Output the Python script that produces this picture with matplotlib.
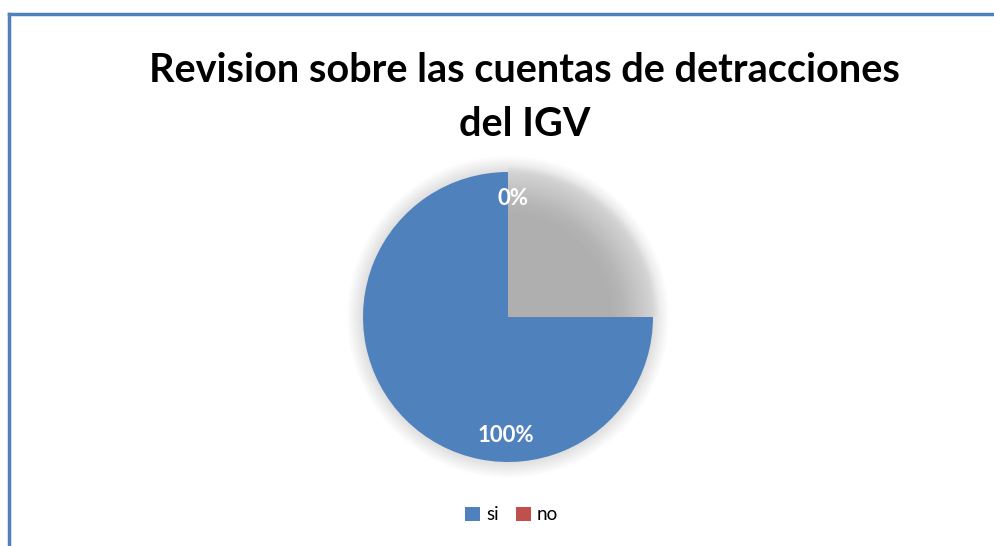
import numpy as np
import matplotlib.pyplot as plt
from matplotlib.patches import Wedge, Circle, Patch
from matplotlib.lines import Line2D

plt.rcParams['font.family'] = ['Lato', 'DejaVu Sans']

# data
categories = ["si", "no"]
percents = [100, 0]
colors = ["#4F81BD", "#C0504D"]
# share of the circle actually painted blue in the picture (the rest is the grey gap)
drawn_shares = [75, 25]
title_lines = ["Revision sobre las cuentas de detracciones", "del IGV"]

fig = plt.figure(figsize=(9.95, 5.46), dpi=100)
ax = fig.add_axes([0, 0, 1, 1])

cx, cy, r = 508, 229, 145

# soft shadow around the pie
for k in range(16):
    ax.add_patch(Circle((cx, cy), r + 16 - k, color='#808080', alpha=0.012, lw=0, zorder=1))

# grey gap with a blurred fade towards the rim
gap_start = 360 * drawn_shares[0] / 100 + 90
for k in range(25):
    rr = r + 6 - k * 2
    ax.add_patch(Wedge((cx, cy), rr, gap_start, gap_start + 360 * drawn_shares[1] / 100,
                       color='#9A9A9A', alpha=0.034, lw=0, zorder=2))

ax.pie(drawn_shares, colors=[colors[0], 'none'], startangle=90, counterclock=True,
       center=(cx, cy), radius=r, frame=True,
       wedgeprops=dict(linewidth=0, zorder=3))
ax.set_xlim(0, 995)
ax.set_ylim(0, 546)
ax.set_aspect('equal')
ax.axis('off')

# labels placed from the real percentages
cum = 0
for cat, p in zip(categories, percents):
    mid = 90 + 360 * (cum + p / 2) / 100
    cum += p
    ang = np.deg2rad(mid)
    ax.text(cx + 0.82 * r * np.cos(ang) + (5 if p == 0 else -2), cy + 0.82 * r * np.sin(ang),
            f"{p}%", color='white', fontsize=16, fontweight='bold',
            ha='center', va='center', zorder=5)

for i, line in enumerate(title_lines):
    fig.text(0.527, 1 - (71 + 53 * i) / 546, line, ha='center', va='center', fontsize=28.5,
             fontweight='bold')

handles = [Patch(facecolor=c, edgecolor='none') for c in colors]
fig.legend(handles, categories, loc='center', bbox_to_anchor=(0.514, 0.057),
           ncol=2, frameon=False, fontsize=13.5, handlelength=0.8, handleheight=0.8,
           handletextpad=0.3, columnspacing=0.9)

# frame border
fig.add_artist(Line2D([9 / 995, 1], [1 - 14 / 546, 1 - 14 / 546], color='#4F81BD', lw=2.5,
                      transform=fig.transFigure))
fig.add_artist(Line2D([9 / 995, 9 / 995], [0, 1 - 14 / 546], color='#4F81BD', lw=2.5,
                      transform=fig.transFigure))

fig.savefig("out.png", dpi=100)
